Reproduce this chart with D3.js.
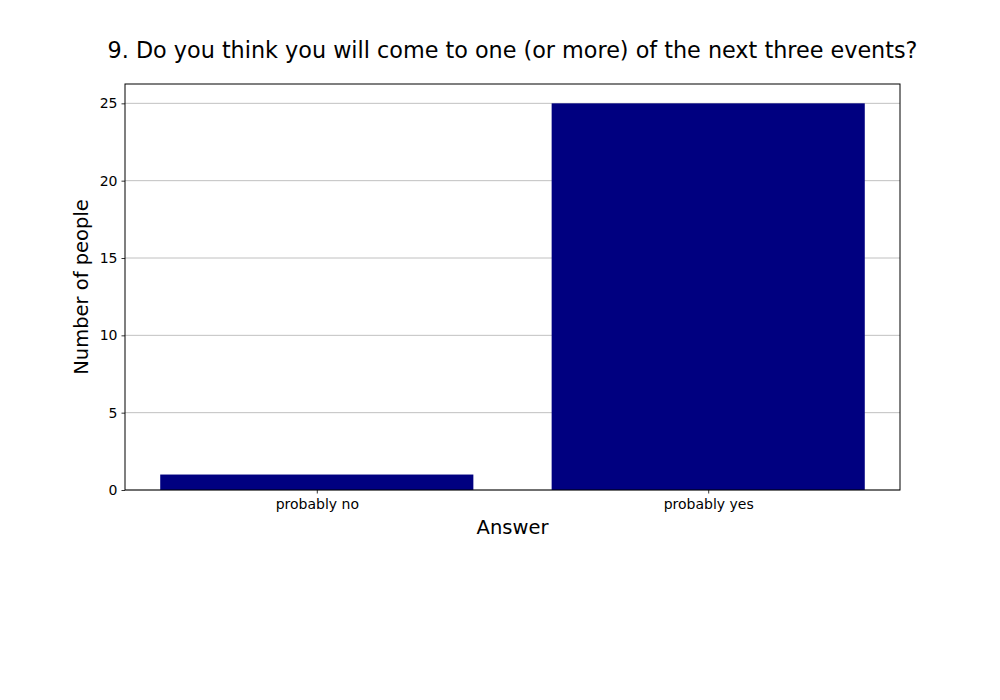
<!DOCTYPE html>
<html>
<head>
<meta charset="utf-8">
<script src="https://cdn.jsdelivr.net/npm/d3@7"></script>
<style>
  body { margin: 0; background: #fff; }
  text { font-family: "DejaVu Sans", sans-serif; }
</style>
</head>
<body>
<div id="chart"></div>
<script>
const categories = ['probably no', 'probably yes'];
const counts = [1, 25];
const yTicks = [0, 5, 10, 15, 20, 25];

const margin = {top: 84, right: 100, bottom: 210, left: 125};
const width = 1000 - margin.left - margin.right;
const height = 700 - margin.top - margin.bottom;

const svg = d3.select('#chart')
    .append('svg')
    .attr('width', 1000)
    .attr('height', 700)
    .append('g')
    .attr('transform', `translate(${margin.left},${margin.top})`);

// matplotlib-style: bar centres at 0,1, width 0.8, 5% margins
const x = d3.scaleLinear()
    .domain([-0.49, categories.length - 1 + 0.49])
    .range([0, width]);

const y = d3.scaleLinear()
    .domain([0, 26.25])
    .range([height, 0]);

// Grid
svg.append('g')
    .selectAll('line')
    .data(yTicks)
    .enter()
    .append('line')
    .attr('x1', 0)
    .attr('x2', width)
    .attr('y1', d => y(d))
    .attr('y2', d => y(d))
    .attr('stroke', '#b0b0b0')
    .attr('stroke-width', 0.8);

// Bars
svg.selectAll('.bar')
    .data(counts)
    .enter()
    .append('rect')
    .attr('class', 'bar')
    .attr('x', (d, i) => x(i - 0.4))
    .attr('width', (d, i) => x(i + 0.4) - x(i - 0.4))
    .attr('y', d => y(d))
    .attr('height', d => y(0) - y(d))
    .attr('fill', '#000080');

// Axes
const xAxis = svg.append('g')
    .attr('transform', `translate(0,${height})`)
    .call(d3.axisBottom(x)
        .tickValues(d3.range(categories.length))
        .tickFormat(i => categories[i])
        .tickSize(3.5)
        .tickPadding(6));

const yAxis = svg.append('g')
    .call(d3.axisLeft(y)
        .tickValues(yTicks)
        .tickSize(3.5)
        .tickPadding(4));

[xAxis, yAxis].forEach(a => {
    a.select('.domain').remove();
    a.selectAll('text').attr('font-size', '14px').attr('fill', '#000')
        .style('font-family', '"DejaVu Sans", sans-serif');
    a.selectAll('line').attr('stroke', '#000').attr('stroke-width', 0.8);
});

// Frame
svg.append('rect')
    .attr('width', width)
    .attr('height', height)
    .attr('fill', 'none')
    .attr('stroke', '#000')
    .attr('stroke-width', 1);

// Labels
svg.append('text')
    .attr('x', width / 2)
    .attr('y', height + 44)
    .attr('text-anchor', 'middle')
    .attr('font-size', '19.5px')
    .text('Answer');

svg.append('text')
    .attr('transform', `translate(-37,${height / 2}) rotate(-90)`)
    .attr('text-anchor', 'middle')
    .attr('font-size', '19.5px')
    .text('Number of people');

svg.append('text')
    .attr('x', width / 2)
    .attr('y', -26)
    .attr('text-anchor', 'middle')
    .attr('font-size', '22.3px')
    .text('9. Do you think you will come to one (or more) of the next three events?');
</script>
</body>
</html>
